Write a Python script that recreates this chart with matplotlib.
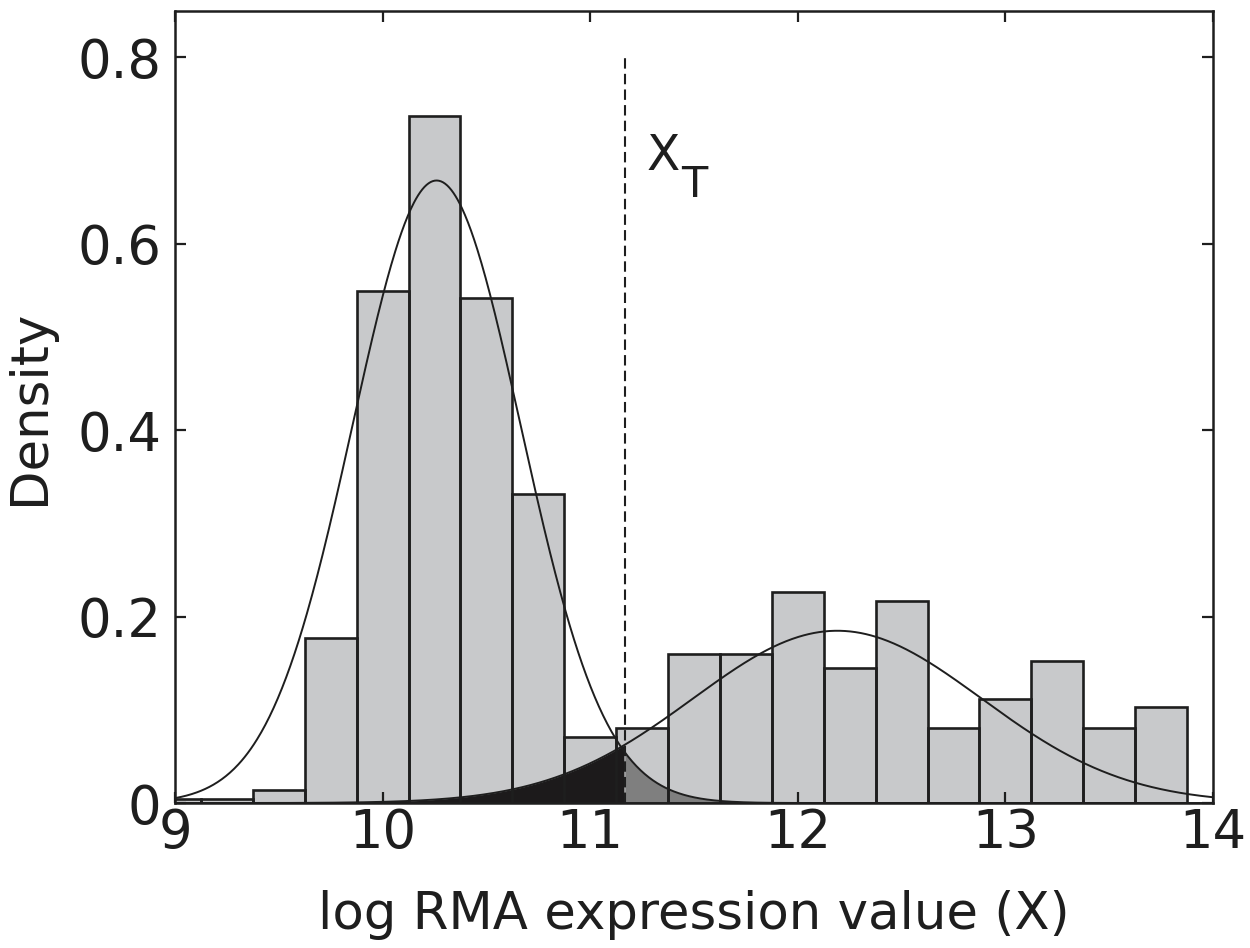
import numpy as np
import matplotlib
matplotlib.use("Agg")
import matplotlib.pyplot as plt

# ---- data ----
bin_centers = [9.0, 9.25, 9.5, 9.75, 10.0, 10.25, 10.5, 10.75, 11.0, 11.25,
               11.5, 11.75, 12.0, 12.25, 12.5, 12.75, 13.0, 13.25, 13.5, 13.75]
densities = [0.004, 0.004, 0.014, 0.177, 0.549, 0.737, 0.542, 0.332, 0.071, 0.080,
             0.160, 0.160, 0.226, 0.145, 0.217, 0.080, 0.112, 0.152, 0.080, 0.103]
bin_width = 0.25

# two fitted mixture components (weight, mean, sd)
comp_low = (0.678, 10.26, 0.405)
comp_high = (0.322, 12.19, 0.695)
x_threshold = 11.167

x_ticks = [9, 10, 11, 12, 13, 14]
y_ticks = [0, 0.2, 0.4, 0.6, 0.8]
y_tick_labels = ["0", "0.2", "0.4", "0.6", "0.8"]

plt.rcParams['font.family'] = ['DejaVu Sans']

def comp_pdf(x, c):
    w, m, s = c
    return w / (s * np.sqrt(2 * np.pi)) * np.exp(-(x - m) ** 2 / (2 * s ** 2))

fig = plt.figure(figsize=(12.5, 9.48), dpi=100)
ax = fig.add_axes([0.14, 0.1529, 0.8304, 0.8358])

# bar faces
ax.bar(bin_centers, densities, width=bin_width, color="#c8c9cb",
       edgecolor="none", zorder=1)

xs = np.linspace(9, 14, 1000)
y_low = comp_pdf(xs, comp_low)
y_high = comp_pdf(xs, comp_high)

# shaded tails
mask_left = xs <= x_threshold
mask_right = xs >= x_threshold
ax.fill_between(xs[mask_left], 0, y_high[mask_left], color="#1c1a1b",
                linewidth=0, zorder=2)
ax.fill_between(xs[mask_right], 0, y_low[mask_right], color="#7f7f7f",
                linewidth=0, zorder=2)

# bar outlines
ax.bar(bin_centers, densities, width=bin_width, color="none",
       edgecolor="#1e1e1e", linewidth=1.9, zorder=3)

# component curves
ax.plot(xs, y_low, color="#1e1e1e", linewidth=1.4, zorder=4)
ax.plot(xs, y_high, color="#1e1e1e", linewidth=1.4, zorder=4)

# threshold line
ax.plot([x_threshold, x_threshold], [0, 0.8], color="#1e1e1e",
        linewidth=1.5, linestyle=(0, (5, 2.5)), zorder=5)

ax.text(11.272, 0.679, "X", fontsize=35, ha="left", va="baseline", color="#1e1e1e")
ax.text(11.44, 0.6505, "T", fontsize=31, ha="left", va="baseline", color="#1e1e1e")

ax.set_xlim(9, 14)
ax.set_ylim(0, 0.85)
ax.set_xticks(x_ticks)
ax.set_yticks(y_ticks)
ax.set_yticklabels(y_tick_labels)
ax.tick_params(direction="in", length=8, width=1.6, labelsize=38,
               top=True, right=True, colors="#1e1e1e")
ax.tick_params(axis="x", pad=3)
ax.tick_params(axis="y", pad=10)
for sp in ax.spines.values():
    sp.set_linewidth(1.8)
    sp.set_color("#1e1e1e")

ax.set_xlabel("log RMA expression value (X)", fontsize=37, color="#1e1e1e", labelpad=22)
ax.set_ylabel("Density", fontsize=37, color="#1e1e1e", labelpad=16)

fig.savefig("out.png", dpi=100, facecolor="white")
